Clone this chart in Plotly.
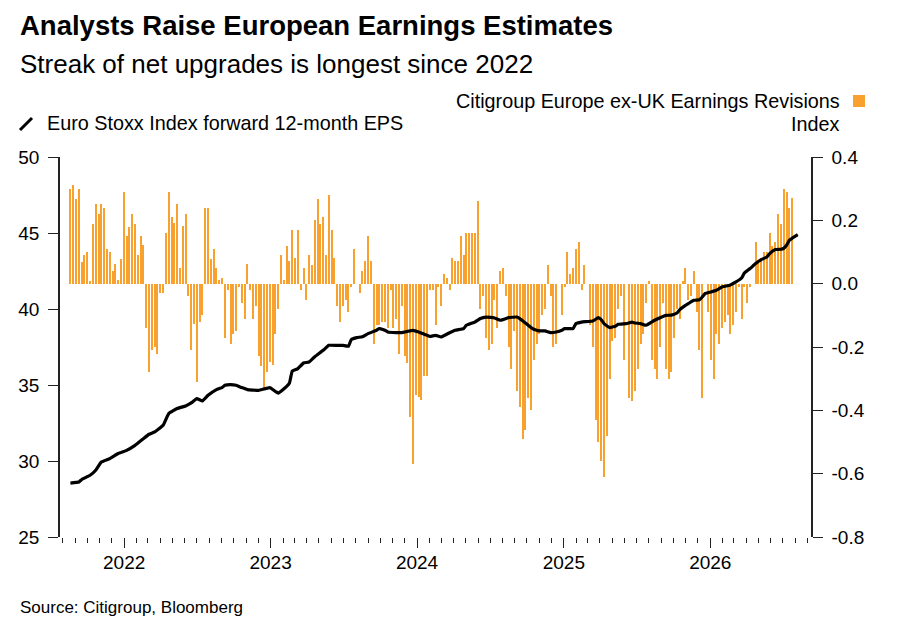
import pandas as pd
import plotly.graph_objects as go

# Citigroup Europe ex-UK earnings revisions index, weekly (right axis)
revisions = [
    0.300, 0.311, 0.268, 0.300, 0.068, 0.089, 0.100, 0.008, 0.189, 0.251,
    0.221, 0.251, 0.240, 0.111, 0.100, 0.040, 0.061, 0.011, 0.079, 0.291,
    0.149, 0.179, 0.219, 0.189, 0.089, 0.149, 0.121, -0.140, -0.279, -0.211,
    -0.200, -0.221, -0.029, -0.029, 0.160, 0.291, 0.211, 0.192, 0.251, 0.051,
    0.181, 0.221, -0.039, -0.211, -0.128, -0.311, -0.121, -0.100, 0.240, 0.240,
    0.079, 0.111, 0.051, 0.011, 0.019, -0.171, -0.019, -0.189, -0.160, -0.149,
    -0.011, -0.061, -0.111, 0.061, -0.019, -0.111, -0.069, -0.229, -0.261, -0.328,
    -0.279, -0.248, -0.258, -0.160, -0.080, 0.089, 0.011, 0.120, 0.071, 0.171,
    0.081, 0.171, -0.019, 0.051, -0.051, 0.089, 0.060, 0.200, 0.268, 0.189,
    0.211, 0.089, 0.281, 0.171, 0.081, -0.069, -0.121, -0.069, -0.051, -0.089,
    -0.011, 0.111, 0.000, -0.029, 0.040, 0.071, 0.149, 0.071, -0.189, -0.129,
    -0.129, -0.121, -0.121, -0.139, -0.019, -0.139, -0.111, -0.221, -0.069, -0.229,
    -0.251, -0.421, -0.571, -0.353, -0.358, -0.368, -0.291, -0.291, -0.019, -0.019,
    -0.129, -0.011, -0.069, 0.029, 0.019, -0.019, 0.081, 0.071, 0.071, 0.149,
    0.089, 0.160, 0.160, 0.160, 0.160, 0.261, -0.080, -0.039, -0.171, -0.211,
    -0.189, -0.051, -0.139, 0.040, 0.051, -0.039, -0.200, -0.271, -0.149, -0.339,
    -0.389, -0.489, -0.461, -0.360, -0.400, -0.240, -0.189, -0.160, -0.100, -0.080,
    0.060, -0.039, -0.200, -0.189, 0.000, -0.100, -0.011, 0.100, 0.029, 0.051,
    0.111, 0.131, -0.019, 0.060, 0.000, -0.129, -0.200, -0.429, -0.501, -0.560,
    -0.611, -0.481, -0.300, -0.181, -0.171, -0.080, -0.039, -0.240, 0.000, -0.360,
    -0.371, -0.339, -0.271, -0.189, -0.160, -0.061, 0.008, -0.240, -0.271, -0.300,
    -0.200, -0.061, -0.271, -0.300, -0.280, -0.171, -0.080, -0.111, 0.008, 0.051,
    -0.051, -0.039, 0.040, -0.089, -0.211, -0.360, 0.000, -0.089, -0.240, -0.300,
    -0.160, -0.189, -0.139, -0.121, -0.100, -0.160, -0.129, -0.089, -0.011, -0.111,
    -0.011, -0.061, -0.011, 0.000, 0.131, 0.071, 0.081, 0.100, 0.100, 0.160,
    0.120, 0.131, 0.221, 0.189, 0.300, 0.291, 0.240, 0.271,
]
first_week = "2021-08-20"

# Euro Stoxx forward 12-month EPS (left axis), week offset from first_week
eps_week = [
    0, 3, 4, 7, 9, 11, 14, 17, 20, 23, 26, 28, 30, 33, 35, 38, 41, 43, 45, 47,
    49, 52, 54, 55, 57, 59, 61, 63, 67, 71, 74, 77, 78, 79, 81, 83, 85, 87, 90, 92,
    95, 97, 99, 100, 102, 104, 106, 109, 110, 112, 113, 116, 118, 120, 122, 124, 126, 128, 130, 132,
    134, 137, 140, 141, 144, 146, 148, 151, 153, 154, 156, 159, 160, 162, 164, 166, 167, 169, 171, 173,
    175, 176, 179, 180, 182, 186, 188, 189, 190, 192, 194, 195, 198, 200, 201, 203, 205, 207, 208, 210,
    212, 214, 216, 217, 219, 220, 222, 224, 225, 226, 228, 230, 232, 233, 235, 237, 239, 240, 242, 244,
    246, 248, 249, 251, 253, 254, 255, 256, 258, 259,
]
eps = [
    28.55, 28.62, 28.78, 29.06, 29.39, 29.93, 30.16, 30.49, 30.70, 31.03,
    31.47, 31.76, 31.91, 32.35, 33.12, 33.45, 33.62, 33.82, 34.10, 33.95,
    34.32, 34.70, 34.83, 34.98, 35.03, 34.98, 34.83, 34.70, 34.65, 34.83,
    34.47, 34.91, 35.13, 35.92, 36.08, 36.45, 36.51, 36.86, 37.28, 37.61,
    37.61, 37.61, 37.55, 37.99, 38.12, 38.17, 38.38, 38.60, 38.71, 38.60,
    38.49, 38.45, 38.45, 38.53, 38.60, 38.49, 38.34, 38.20, 38.27, 38.16,
    38.34, 38.60, 38.71, 38.93, 39.14, 39.37, 39.47, 39.41, 39.26, 39.30,
    39.43, 39.47, 39.37, 39.08, 38.78, 38.60, 38.56, 38.56, 38.45, 38.49,
    38.60, 38.71, 38.71, 39.04, 39.14, 39.21, 39.43, 39.30, 39.04, 38.78,
    38.86, 38.99, 39.04, 39.14, 39.08, 39.04, 38.93, 39.14, 39.26, 39.43,
    39.58, 39.60, 39.74, 39.96, 40.24, 40.35, 40.57, 40.61, 40.79, 41.01,
    41.12, 41.23, 41.45, 41.49, 41.58, 41.78, 42.04, 42.37, 42.66, 42.99,
    43.25, 43.42, 43.64, 43.91, 43.93, 43.99, 44.19, 44.52, 44.78, 44.89,
]

year_ticks = ["2022-01-01", "2023-01-01", "2024-01-01", "2025-01-01", "2026-01-01"]
year_labels = ["2022", "2023", "2024", "2025", "2026"]
eps_ticks = [25, 30, 35, 40, 45, 50]
rev_ticks = [-0.8, -0.6, -0.4, -0.2, 0.0, 0.2, 0.4]
rev_labels = ["-0.8", "-0.6", "-0.4", "-0.2", "0.0", "0.2", "0.4"]

ORANGE = "#f9a12e"
FONT = "Liberation Sans, Arial, sans-serif"
W, H = 919, 635
L, R, T, B = 60, 811, 157, 537

bar_dates = pd.date_range(first_week, periods=len(revisions), freq="7D")
eps_dates = pd.Timestamp(first_week) + pd.to_timedelta([w * 7 for w in eps_week], unit="D")


def px(x):
    return (x - L) / (R - L)


def py(y):
    return (B - y) / (B - T)


fig = go.Figure()
fig.add_trace(go.Bar(
    x=bar_dates, y=revisions, yaxis="y",
    marker=dict(color=ORANGE, line=dict(width=0)),
    width=5 * 24 * 3600 * 1000,
    hoverinfo="x+y", showlegend=False,
))
fig.add_trace(go.Scatter(
    x=eps_dates, y=eps, yaxis="y2", mode="lines",
    line=dict(color="#000000", width=3.2, shape="spline", smoothing=0.3),
    showlegend=False,
))

axis_font = dict(family=FONT, size=19, color="#000000")
fig.update_layout(
    width=W, height=H,
    margin=dict(l=L, r=W - R, t=T, b=H - B, pad=0),
    paper_bgcolor="white", plot_bgcolor="white",
    font=dict(family=FONT, color="#000000"),
    bargap=0,
    xaxis=dict(
        type="date", range=["2021-07-25", "2026-09-09"],
        tickvals=year_ticks, ticktext=year_labels,
        ticks="outside", ticklen=10, tickwidth=1.3, tickcolor="#222222",
        minor=dict(dtick="M1", tick0="2021-01-01", ticks="outside", ticklen=5,
                   tickwidth=1.3, tickcolor="#222222"),
        showline=False, showgrid=False, zeroline=False,
        tickfont=axis_font, ticklabelstandoff=-2,
    ),
    yaxis=dict(
        side="right", range=[-0.8, 0.4],
        tickvals=rev_ticks, ticktext=rev_labels,
        ticks="outside", ticklen=10, tickwidth=1.3, tickcolor="#222222",
        showline=True, linecolor="#222222", linewidth=1.5,
        showgrid=False, zeroline=False, tickfont=axis_font,
        ticklabelstandoff=5,
    ),
    yaxis2=dict(
        side="left", overlaying="y", range=[25, 50],
        tickvals=eps_ticks, ticks="outside", ticklen=10, tickwidth=1.3,
        tickcolor="#222222", showline=True, linecolor="#222222", linewidth=1.5,
        showgrid=False, zeroline=False, tickfont=axis_font,
        ticklabelstandoff=5,
    ),
)

texts = [
    ("<b>Analysts Raise European Earnings Estimates</b>", 18, 26, "left", 27.5),
    ("Streak of net upgrades is longest since 2022", 18, 64, "left", 26),
    ("Citigroup Europe ex-UK Earnings Revisions", 842, 101, "right", 19.8),
    ("Index", 842, 124, "right", 19.8),
    ("Euro Stoxx Index forward 12-month EPS", 45, 123, "left", 19.8),
    ("Source: Citigroup, Bloomberg", 18, 607, "left", 17),
]
for text, x, y, anchor, size in texts:
    fig.add_annotation(
        text=text, x=px(x), y=py(y), xref="paper", yref="paper",
        xanchor=anchor, yanchor="middle", showarrow=False,
        font=dict(family=FONT, size=size, color="#000000"),
    )

# legend swatches
fig.add_shape(type="rect", xref="paper", yref="paper",
              x0=px(853), x1=px(865), y0=py(107), y1=py(95),
              fillcolor=ORANGE, line=dict(width=0))
fig.add_shape(type="line", xref="paper", yref="paper",
              x0=px(20), x1=px(32), y0=py(130), y1=py(118),
              line=dict(color="#000000", width=3))

# drop the browser's default body margin so the figure sits at the page corner
fig.write_html(
    "out.html",
    config={"displayModeBar": False},
    post_script="document.body.style.margin='0px';",
)
